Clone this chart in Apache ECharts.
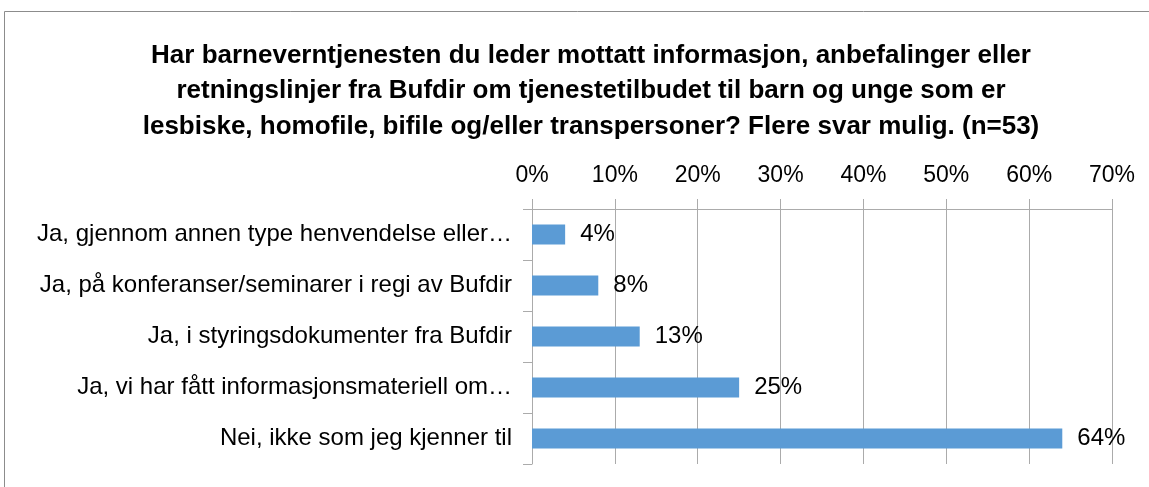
<!DOCTYPE html>
<html>
<head>
<meta charset="utf-8">
<script src="https://cdn.jsdelivr.net/npm/echarts@6/dist/echarts.min.js"></script>
<style>
  html, body { margin: 0; padding: 0; background: #fff; }
  #chart { width: 1149px; height: 487px; }
</style>
</head>
<body>
<div id="chart"></div>
<script>
    // svarkategorier, ovenfra og ned
    let categories = [
        'Ja, gjennom annen type henvendelse eller…',
        'Ja, på konferanser/seminarer i regi av Bufdir',
        'Ja, i styringsdokumenter fra Bufdir',
        'Ja, vi har fått informasjonsmateriell om…',
        'Nei, ikke som jeg kjenner til'
    ];
    // andel i prosent
    let values = [4, 8, 13, 25, 64];
    let tickValues = [0, 10, 20, 30, 40, 50, 60, 70];

    let titleText = 'Har barneverntjenesten du leder mottatt informasjon, anbefalinger eller\n' +
        'retningslinjer fra Bufdir om tjenestetilbudet til barn og unge som er\n' +
        'lesbiske, homofile, bifile og/eller transpersoner? Flere svar mulig. (n=53)';

    let font = '"Liberation Sans", Arial, sans-serif';
    let gridColor = '#ababab';

    let chart = echarts.init(document.getElementById('chart'));
    let option = {
        animation: false,
        textStyle: { fontFamily: font },
        title: {
            text: titleText,
            left: 586,
            top: 33,
            textAlign: 'center',
            textStyle: {
                fontFamily: font,
                fontWeight: 'bold',
                fontSize: 26,
                lineHeight: 35.5,
                color: '#000'
            }
        },
        graphic: [{
            type: 'rect',
            shape: { x: 4.5, y: 11.5, width: 1200, height: 520 },
            style: { fill: 'none', stroke: '#8c8c8c', lineWidth: 1 },
            silent: true
        }],
        grid: {
            left: 532,
            right: 37,
            top: 209,
            bottom: 23
        },
        xAxis: {
            type: 'value',
            position: 'top',
            min: tickValues[0],
            max: tickValues[tickValues.length - 1],
            interval: 10,
            axisLine: { show: true, lineStyle: { color: gridColor } },
            axisTick: { show: true, length: 10, lineStyle: { color: gridColor } },
            splitLine: { show: true, lineStyle: { color: gridColor, width: 1 } },
            axisLabel: {
                margin: 22,
                fontSize: 23,
                color: '#000',
                fontFamily: font,
                formatter: function (v) { return v + '%'; }
            }
        },
        yAxis: {
            type: 'category',
            data: categories,
            inverse: true,
            axisLine: { show: true, lineStyle: { color: gridColor } },
            axisTick: { show: true, length: 9, lineStyle: { color: gridColor } },
            axisLabel: {
                margin: 20,
                fontSize: 24,
                color: '#000',
                fontFamily: font
            }
        },
        series: [{
            type: 'bar',
            data: values,
            barWidth: 20,
            itemStyle: { color: '#5b9bd5' },
            label: {
                show: true,
                position: 'right',
                distance: 15,
                fontSize: 24,
                color: '#000',
                fontFamily: font,
                formatter: function (p) { return p.value + '%'; }
            }
        }]
    };
    chart.setOption(option, true);
    window.addEventListener('resize', function () {
        chart.resize();
    });
</script>
</body>
</html>
